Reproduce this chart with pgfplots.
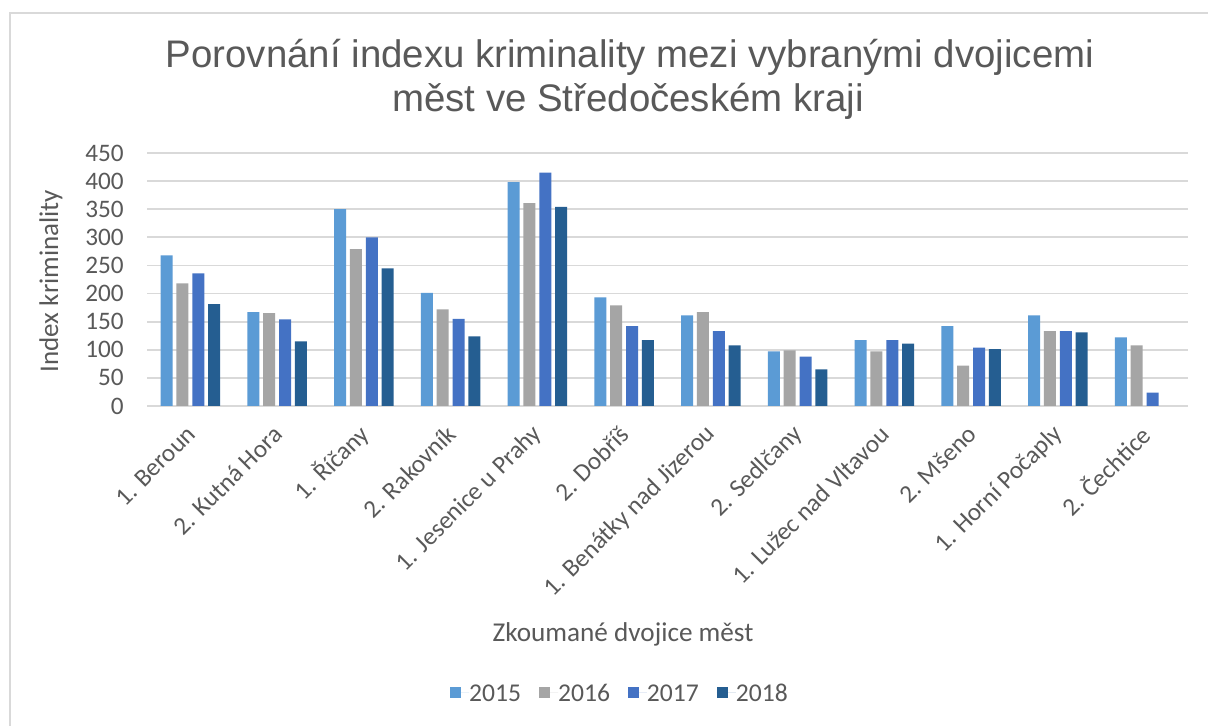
\documentclass[border=0pt]{standalone}
\usepackage{pgfplots}
\pgfplotsset{compat=1.18}
\usepackage{fontspec}
\setmainfont{Carlito}
\newfontfamily\titlefont{Liberation Sans}
\definecolor{cA}{HTML}{5B9BD5}
\definecolor{cB}{HTML}{A5A5A5}
\definecolor{cC}{HTML}{4472C4}
\definecolor{cD}{HTML}{255E91}
\definecolor{gridgray}{HTML}{D9D9D9}
\definecolor{textgray}{HTML}{595959}
\begin{document}
\begin{tikzpicture}[x=0.5pt,y=0.5pt]
\useasboundingbox (0,0) rectangle (1208,726);
\fill[white] (0,0) rectangle (1208,726);
\draw[color=gridgray, line width=1.3pt] (10,0) -- (10,713) -- (1208,713);
\begin{axis}[
  at={(73.5pt,160pt)}, anchor=south west,
  scale only axis, width=520.5pt, height=126.5pt,
  xmin=0, xmax=12, ymin=0, ymax=450,
  xtick={0.5,1.5,...,11.5},
  xticklabels={1. Beroun,2. Kutná Hora,1. Říčany,2. Rakovník,1. Jesenice u Prahy,2. Dobříš,1. Benátky nad Jizerou,2. Sedlčany,1. Lužec nad Vltavou,2. Mšeno,1. Horní Počaply,2. Čechtice},
  ytick={0,50,...,450},
  ymajorgrids, major grid style={color=gridgray, line width=0.85pt},
  axis line style={draw=none},
  major tick length=0pt,
  tick style={draw=none},
  /pgf/number format/assume math mode=true,
  yticklabel style={font=\fontsize{12.6}{14}\selectfont, text=textgray, inner sep=0pt, xshift=-11.5pt},
  xticklabel style={font=\fontsize{12.6}{15}\selectfont, text=textgray, inner sep=0pt, anchor=east, xshift=0.5pt, yshift=-12pt, rotate=45},
  ybar=1.9pt, bar width=6pt,
  legend style={at={(0.4534,-1.134)}, anchor=center, draw=none, fill=none, legend columns=4,
    font=\fontsize{12.8}{14}\selectfont, text=textgray, inner sep=0pt,
    nodes={text height=8.6pt, text depth=0pt, inner sep=0pt},
    /tikz/every even column/.append style={column sep=9pt}},
  legend image code/.code={\fill[#1] (0pt,-2.75pt) rectangle (5.5pt,2.75pt); \path (0pt,0pt) -- (9.5pt,0pt);},
]
\addplot[fill=cA, draw=none] coordinates {(0.5,268) (1.5,167) (2.5,350) (3.5,201) (4.5,398) (5.5,193) (6.5,161) (7.5,97) (8.5,117) (9.5,142) (10.5,161) (11.5,122)};
\addplot[fill=cB, draw=none] coordinates {(0.5,218) (1.5,165) (2.5,279) (3.5,172) (4.5,361) (5.5,179) (6.5,167) (7.5,99) (8.5,97) (9.5,72) (10.5,133) (11.5,108)};
\addplot[fill=cC, draw=none] coordinates {(0.5,236) (1.5,154) (2.5,300) (3.5,155) (4.5,415) (5.5,142) (6.5,133) (7.5,88) (8.5,117) (9.5,104) (10.5,133) (11.5,24)};
\addplot[fill=cD, draw=none] coordinates {(0.5,181) (1.5,115) (2.5,245) (3.5,124) (4.5,354) (5.5,117) (6.5,108) (7.5,65) (8.5,111) (9.5,101) (10.5,131)};
\legend{2015,2016,2017,2018}
\end{axis}
\node[rotate=90, font=\fontsize{13.5}{15}\selectfont, text=textgray] at (51,445) {Index kriminality};
\node[anchor=base, font=\fontsize{13.6}{15}\selectfont, text=textgray] at (623,84) {Zkoumané dvojice měst};
\node[anchor=base, font=\titlefont\fontsize{19.2}{22}\selectfont, text=textgray] at (630,658) {Porovnání indexu kriminality mezi vybranými dvojicemi};
\node[anchor=base, font=\titlefont\fontsize{19.2}{22}\selectfont, text=textgray] at (628,614) {měst ve Středočeském kraji};
\end{tikzpicture}
\end{document}
